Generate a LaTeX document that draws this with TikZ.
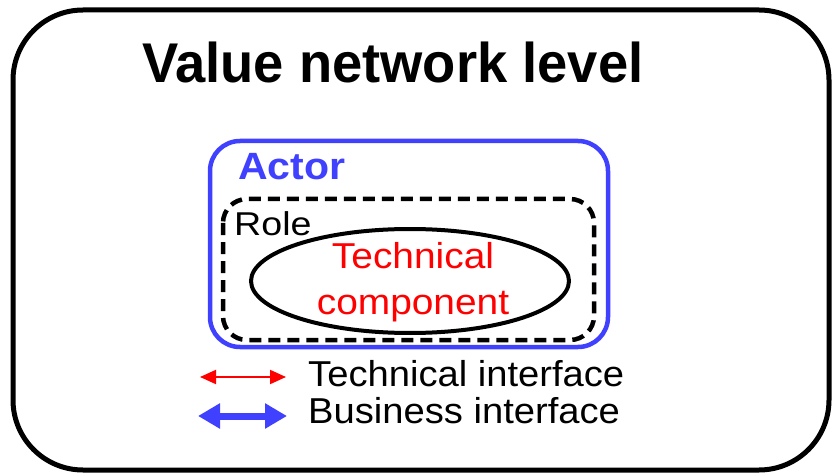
\documentclass[tikz,border=0pt]{standalone}
\usepackage{fontspec}
\usepackage{graphicx}
\setmainfont{Liberation Sans}
\usetikzlibrary{arrows.meta}
\definecolor{actorblue}{RGB}{64,64,255}
\definecolor{techred}{RGB}{255,0,0}
\tikzset{
  label/.style={inner sep=0pt, anchor=base west},
  levelbox/.style={draw=black, line width=5pt, rounded corners=70pt},
  actorbox/.style={draw=actorblue, line width=4.5pt, rounded corners=30pt},
  rolebox/.style={draw=black, line width=4.5pt, dash pattern=on 12pt off 7pt, rounded corners=24pt},
  compshape/.style={draw=black, line width=4pt},
  techarrow/.style={draw=techred, line width=2pt, {Triangle[length=16pt,width=14pt]}-{Triangle[length=16pt,width=14pt]}},
  busarrow/.style={draw=actorblue, line width=7pt, {Triangle[length=22pt,width=24pt]}-{Triangle[length=22pt,width=24pt]}}
}
\begin{document}
\begin{tikzpicture}[x=1pt,y=-1pt]
  \useasboundingbox (0,0) rectangle (836,476);
  % outer level frame
  \draw[levelbox] (13,10) rectangle (829,470);
  \node[label, font=\bfseries\fontsize{56}{62}\selectfont] (title) at (142,83)
    {\scalebox{0.97}[1]{Value network level}};
  % actor, role and component
  \draw[actorbox] (210,141) rectangle (608,347);
  \node[label, text=actorblue, font=\bfseries\fontsize{38}{44}\selectfont] (actor) at (238,180)
    {\scalebox{1.08}[1]{Actor}};
  \draw[rolebox] (223,199) rectangle (594,340);
  \node[label, font=\fontsize{33}{38}\selectfont] (role) at (234,235)
    {\scalebox{1.14}[1]{Role}};
  \draw[compshape] (410,281) ellipse [x radius=159pt, y radius=52pt];
  \node[text=techred, font=\fontsize{36}{47}\selectfont, inner sep=0pt, anchor=base] (comp) at (413,268)
    {\scalebox{1.08}[1]{\begin{tabular}[t]{@{}c@{}}Technical\\component\end{tabular}}};
  % legend
  \coordinate (ta) at (200,377);
  \coordinate (tb) at (286,377);
  \coordinate (ba) at (198,416);
  \coordinate (bb) at (287,416);
  \draw[techarrow] (ta) -- (tb);
  \draw[busarrow] (ba) -- (bb);
  \node[label, font=\fontsize{36}{42}\selectfont] (tlab) at (308,386)
    {\scalebox{1.06}[1]{Technical interface}};
  \node[label, font=\fontsize{36}{42}\selectfont] (blab) at (308,423)
    {\scalebox{1.06}[1]{Business interface}};
\end{tikzpicture}
\end{document}
